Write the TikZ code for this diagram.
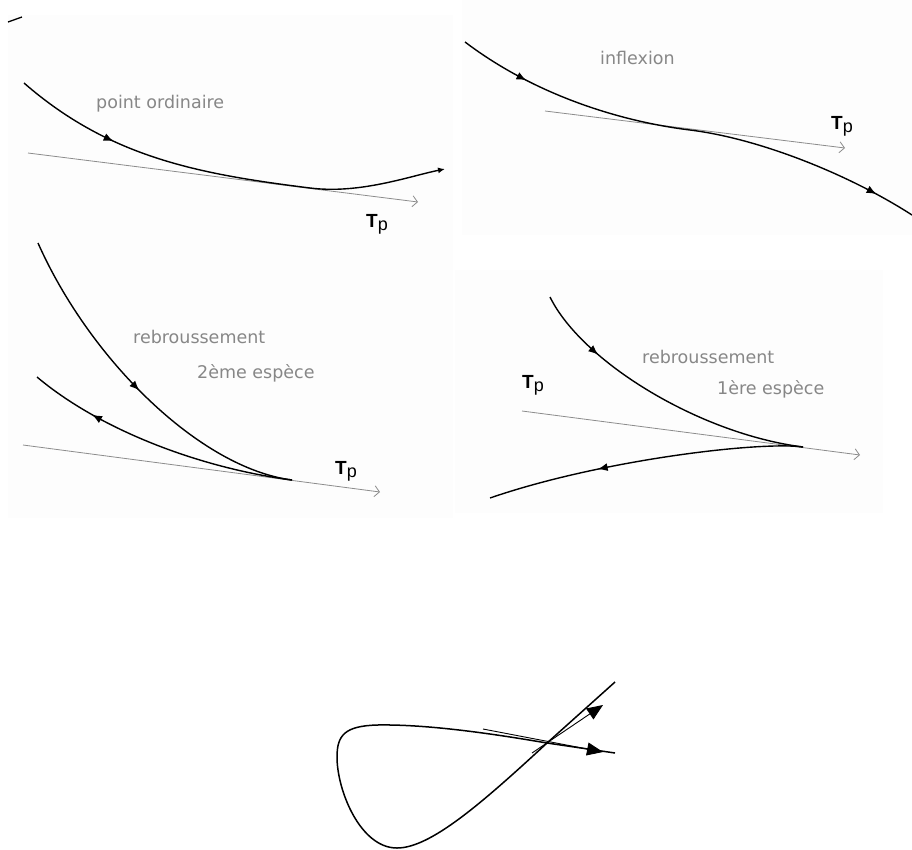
\documentclass[tikz,border=0pt]{standalone}
\usepackage{fontspec}
\newfontfamily\labfont{DejaVu Sans}
\newfontfamily\tpfont{Liberation Sans}
\usetikzlibrary{arrows.meta,decorations.markings}
\definecolor{tangray}{HTML}{8C8C8C}
\definecolor{labgray}{HTML}{878787}
\definecolor{panelbg}{HTML}{FDFDFD}
\tikzset{
  flow/.style={postaction={decorate,decoration={markings,mark=at position #1 with {\arrow{Latex[length=10pt,width=8pt]}}}}},
  pcurve/.style={line width=1.4pt,black},
  ptan/.style={line width=0.8pt,tangray,-{Straight Barb[length=5pt,width=11pt]}},
  plabel/.style={font=\labfont\fontsize{17.5}{20}\selectfont,text=labgray,inner sep=0pt,anchor=base west},
  tplabel/.style={font=\tpfont,inner sep=0pt,anchor=base west},
  bigarrow/.style={line width=0.9pt,-{Triangle[length=16pt,width=13pt]}},
  panel/.style={fill=panelbg,draw=none}
}
\newcommand{\TpText}{{\bfseries\fontsize{19}{19}\selectfont T}\raisebox{-3pt}{\fontsize{18}{18}\selectfont p}}
\begin{document}
\begin{tikzpicture}[x=1pt,y=-1pt]
\useasboundingbox (0,0) rectangle (912,849);
% panel backgrounds
\fill[panel] (8,15) rectangle (453,518);
\fill[panel] (462,0) rectangle (912,235);
\fill[panel] (455,270) rectangle (883,513);

% ---------- panel 1 : point ordinaire ----------
\draw[line width=1.3pt] (8,22) -- (22,17);
\draw[ptan] (28,153) -- (418,202);
\draw[pcurve, flow=0.24, -{Latex[length=7pt,width=6pt]}] (24,83) .. controls (110,158) and (200,174.2) .. (310,188) .. controls (360,194.3) and (410,176) .. (445,169);
\node[plabel] (lab1) at (96,108) {point ordinaire};
\node[tplabel] (tp1) at (366,227) {\TpText};

% ---------- panel 2 : inflexion ----------
\draw[ptan] (545,111) -- (845,148);
\draw[pcurve, flow=0.15, flow=0.915] (465,42) .. controls (535,95) and (620,121.4) .. (690,130) .. controls (760,138.6) and (850,175) .. (912,215);
\node[plabel] (lab2) at (600,64) {inflexion};
\node[tplabel] (tp2) at (831,129) {\TpText};

% ---------- panel 3 : rebroussement 2eme espece ----------
\coordinate (c3) at (292,480);
\draw[ptan] (23,445) -- (380,492);
\draw[pcurve, flow=0.5] (38,243) .. controls (90,360) and (200,468) .. (c3);
\draw[pcurve, flow=0.76] (c3) .. controls (200,468) and (100,430) .. (37,377);
\node[plabel] (lab3a) at (133,343) {rebroussement};
\node[plabel] (lab3b) at (197,378) {2ème espèce};
\node[tplabel] (tp3) at (335,474) {\TpText};

% ---------- panel 4 : rebroussement 1ere espece ----------
\coordinate (c4) at (803,447);
\draw[ptan] (522,411) -- (860,455);
\draw[pcurve, flow=0.25] (550,297) .. controls (582,362) and (700,434) .. (c4);
\draw[pcurve, flow=0.65] (c4) .. controls (760,441) and (600,460) .. (490,498);
\node[plabel] (lab4a) at (642,363) {rebroussement};
\node[plabel] (lab4b) at (717,394) {1ère espèce};
\node[tplabel] (tp4) at (522,388) {\TpText};

% ---------- bottom : double point ----------
\coordinate (X) at (547,743);
\coordinate (a1) at (483,729);
\coordinate (a1t) at (603,752);
\coordinate (a2) at (532,753);
\coordinate (a2t) at (603,705);
\draw[line width=1.5pt] (615,682) -- (X) .. controls (480,805) and (430,848) .. (397,848) .. controls (360,848) and (337,790) .. (337,757) .. controls (337,735) and (345,726) .. (377,725) .. controls (430,724) and (500,735) .. (X) -- (615,753);
\draw[bigarrow] (a1) -- (a1t);
\draw[bigarrow] (a2) -- (a2t);
\end{tikzpicture}
\end{document}
